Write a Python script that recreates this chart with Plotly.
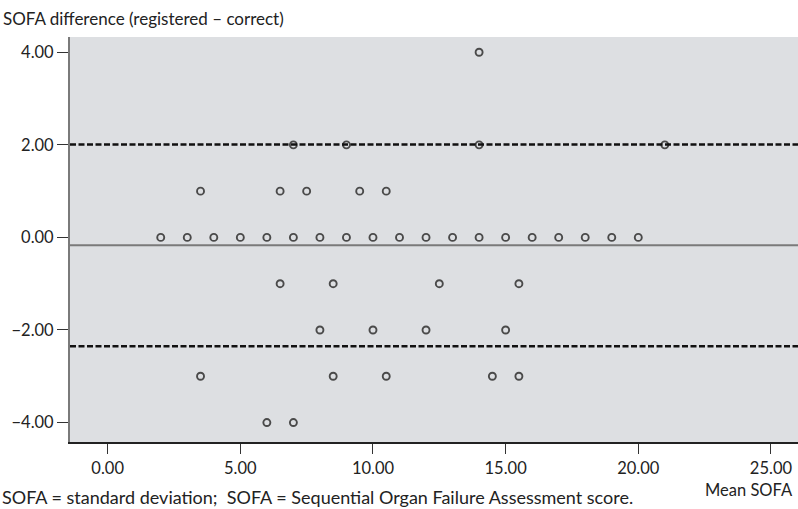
import plotly.graph_objects as go

# Data (mean SOFA, difference)
mean_sofa = [14,
             7, 9, 14, 21,
             3.5, 6.5, 7.5, 9.5, 10.5,
             2, 3, 4, 5, 6, 7, 8, 9, 10, 11, 12, 13, 14, 15, 16, 17, 18, 19, 20,
             6.5, 8.5, 12.5, 15.5,
             8, 10, 12, 15,
             3.5, 8.5, 10.5, 14.5, 15.5,
             6, 7]
diff_sofa = [4,
             2, 2, 2, 2,
             1, 1, 1, 1, 1,
             0, 0, 0, 0, 0, 0, 0, 0, 0, 0, 0, 0, 0, 0, 0, 0, 0, 0, 0,
             -1, -1, -1, -1,
             -2, -2, -2, -2,
             -3, -3, -3, -3, -3,
             -4, -4]

mean_diff = -0.17
upper_loa = 2.01
lower_loa = -2.35

x_ticks = [0, 5, 10, 15, 20, 25]
x_tick_labels = ["0.00", "5.00", "10.00", "15.00", "20.00", "25.00"]
y_ticks = [-4, -2, 0, 2, 4]
y_tick_labels = ["\u22124.00", "\u22122.00", "0.00", "2.00", "4.00"]

FONT = "Lato, Open Sans, sans-serif"
TXT = "#222222"

fig = go.Figure()
fig.add_trace(go.Scatter(
    x=mean_sofa, y=diff_sofa, mode="markers",
    marker=dict(symbol="circle-open", size=7, color="#4a4a4a",
                line=dict(width=1.9, color="#4a4a4a")),
    showlegend=False, hoverinfo="skip"))

fig.add_hline(y=mean_diff, line=dict(color="#7a7a7a", width=2))
for v in (upper_loa, lower_loa):
    fig.add_hline(y=v, line=dict(color="#111111", width=2.5, dash="6px,2.5px"))

fig.update_layout(
    width=798, height=509,
    margin=dict(l=70, r=0, t=37, b=67),
    paper_bgcolor="white", plot_bgcolor="#DDDFE2",
    font=dict(family=FONT, size=16, color=TXT),
    xaxis=dict(range=[-1.42, 26.02], tickvals=x_ticks, ticktext=x_tick_labels,
               showgrid=False, zeroline=False, ticks="outside", ticklen=10,
               tickcolor="#333333", tickwidth=1, showline=True,
               linecolor="#222222", linewidth=1.5,
               tickfont=dict(size=16.5, family=FONT, color=TXT)),
    yaxis=dict(range=[-4.42, 4.33], tickvals=y_ticks, ticktext=y_tick_labels,
               showgrid=False, zeroline=False, ticks="outside", ticklen=11,
               tickcolor="#333333", tickwidth=1, showline=True,
               linecolor="#7a7a7a", linewidth=2,
               tickfont=dict(size=16.5, family=FONT, color=TXT)),
    annotations=[
        dict(text="SOFA difference (registered \u2013 correct)", xref="paper", yref="paper",
             x=-70/728, y=1, yshift=19, xanchor="left", yanchor="middle", xshift=1,
             showarrow=False, font=dict(size=17, family=FONT, color=TXT)),
        dict(text="Mean SOFA", xref="paper", yref="paper",
             x=1, y=0, yshift=-48, xanchor="right", yanchor="middle", xshift=-3,
             showarrow=False, font=dict(size=16.5, family=FONT, color=TXT)),
        dict(text="SOFA = standard deviation;\u00a0 SOFA = Sequential Organ Failure Assessment score.",
             xref="paper", yref="paper", x=-70/728, y=0, yshift=-55,
             xanchor="left", yanchor="middle", showarrow=False,
             font=dict(size=18, family=FONT, color=TXT)),
    ],
)

fig.write_html("out.html", config={"displayModeBar": False},
               post_script="document.body.style.margin='0';document.body.style.overflow='hidden';")
